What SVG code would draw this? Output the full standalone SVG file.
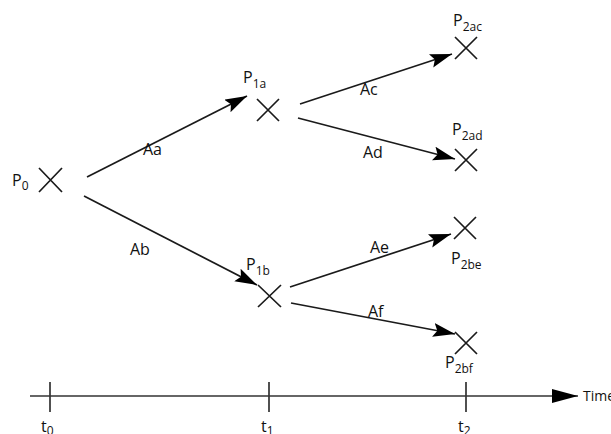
<svg xmlns="http://www.w3.org/2000/svg" width="611" height="434" viewBox="0 0 611 434">
<style>
text{font-family:"Open Sans","Liberation Sans",sans-serif;fill:#111;font-size:16px}
.sub{font-size:12px}
.x{stroke:#1a1a1a;stroke-width:1.7;fill:none}
.c{stroke:#1a1a1a;stroke-width:1.7;fill:none;marker-end:url(#ah)}
.ax{stroke:#333;stroke-width:1.7;fill:none}
</style>
<defs>
<marker id="ah" markerUnits="userSpaceOnUse" markerWidth="24" markerHeight="16" refX="22" refY="7" orient="auto">
<path d="M0,0 L22,7 L0,14 L4,7 Z" fill="#000"/>
</marker>
</defs>
<rect width="611" height="434" fill="#fff"/>
<g id="P0"><path class="x" d="M39,168 L62,192 M62,168 L39,192"/><text x="12" y="186">P<tspan class="sub" dy="4">0</tspan></text></g>
<g id="P1a"><path class="x" d="M257,99 L279,121 M279,99 L257,121"/><text x="243" y="83">P<tspan class="sub" dy="5">1a</tspan></text></g>
<g id="P1b"><path class="x" d="M258,285 L281,307 M281,285 L258,307"/><text x="246" y="270">P<tspan class="sub" dy="5">1b</tspan></text></g>
<g id="P2ac"><path class="x" d="M455,37 L477,59 M477,37 L455,59"/><text x="453" y="26">P<tspan class="sub" dy="5">2ac</tspan></text></g>
<g id="P2ad"><path class="x" d="M455,149 L477,171 M477,149 L455,171"/><text x="452" y="135">P<tspan class="sub" dy="5">2ad</tspan></text></g>
<g id="P2be"><path class="x" d="M454,217 L476,239 M476,217 L454,239"/><text x="451" y="264">P<tspan class="sub" dy="5">2be</tspan></text></g>
<g id="P2bf"><path class="x" d="M455,332 L477,354 M477,332 L455,354"/><text x="445" y="368">P<tspan class="sub" dy="5">2bf</tspan></text></g>
<g id="connectors">
<path class="c" d="M87,177 L247,96"/>
<path class="c" d="M84,196 L257,285"/>
<path class="c" d="M300,104 L452,54"/>
<path class="c" d="M298,118 L455,159"/>
<path class="c" d="M290,287 L451,234"/>
<path class="c" d="M291,303 L455,334"/>
<text x="143" y="155">Aa</text>
<text x="130" y="255">Ab</text>
<text x="360" y="95">Ac</text>
<text x="363" y="158">Ad</text>
<text x="370" y="253">Ae</text>
<text x="368" y="317">Af</text>
</g>
<g id="axis">
<path class="ax" d="M30,396 L578,396"/>
<path d="M552,389 L578,396 L552,403 Z" fill="#000"/>
<path class="ax" d="M50,382 L50,412 M269,382 L269,412 M466,382 L466,412"/>
<text x="583" y="401" style="font-size:14px">Time</text>
<text x="41" y="432">t<tspan class="sub" dy="3">0</tspan></text>
<text x="261" y="432">t<tspan class="sub" dy="3">1</tspan></text>
<text x="458" y="432">t<tspan class="sub" dy="3">2</tspan></text>
</g>
</svg>
